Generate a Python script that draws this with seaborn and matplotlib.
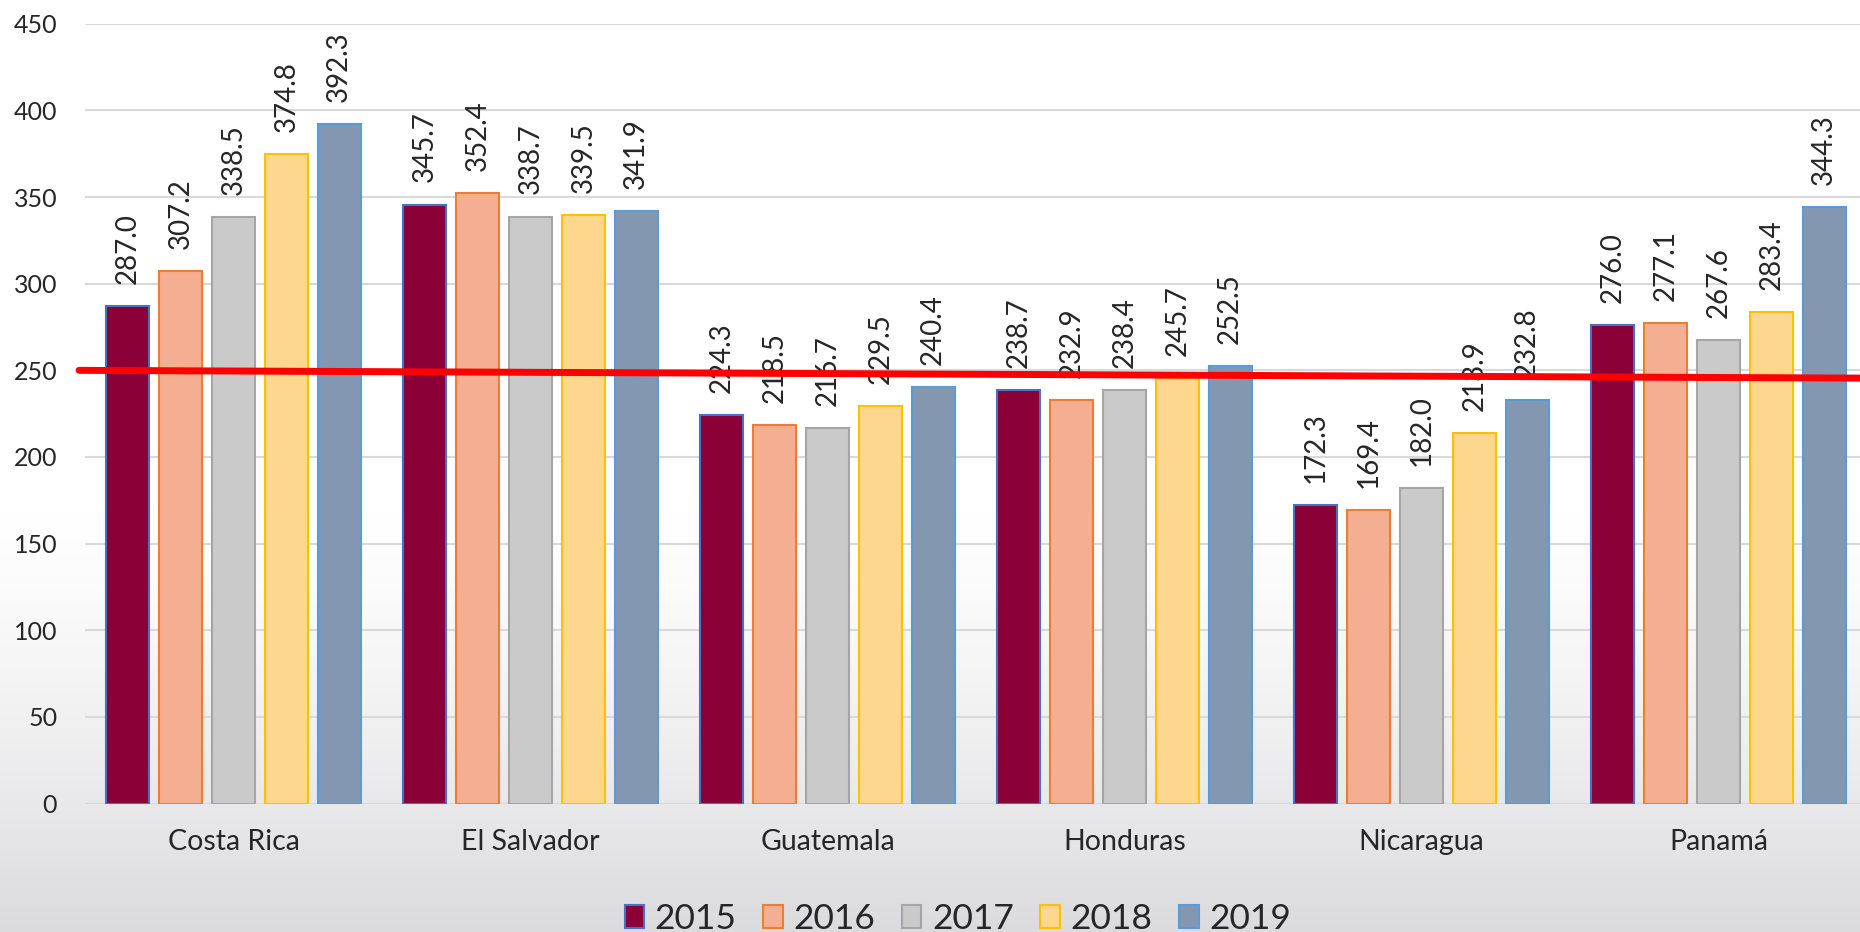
import numpy as np
import pandas as pd
import matplotlib
matplotlib.use("Agg")
import matplotlib.pyplot as plt
import seaborn as sns
from matplotlib.patches import Patch

countries = ["Costa Rica", "El Salvador", "Guatemala", "Honduras", "Nicaragua", "Panamá"]
years = ["2015", "2016", "2017", "2018", "2019"]
v2015 = [287.0, 345.7, 224.3, 238.7, 172.3, 276.0]
v2016 = [307.2, 352.4, 218.5, 232.9, 169.4, 277.1]
v2017 = [338.5, 338.7, 216.7, 238.4, 182.0, 267.6]
v2018 = [374.8, 339.5, 229.5, 245.7, 213.9, 283.4]
v2019 = [392.3, 341.9, 240.4, 252.5, 232.8, 344.3]
ref_line = [250.0, 245.5]  # red line, left end and right end

fills = ["#8B0037", "#F4AF92", "#CACACA", "#FDD78D", "#8497B0"]
edges = ["#4472C4", "#ED7D31", "#A5A5A5", "#FFC000", "#5B9BD5"]

df = pd.DataFrame({
    "country": countries * len(years),
    "year": np.repeat(years, len(countries)),
    "value": v2015 + v2016 + v2017 + v2018 + v2019,
})

sns.set_style("white")
plt.rcParams["font.family"] = ["Lato", "DejaVu Sans"]

fig = plt.figure(figsize=(18.6, 9.32), dpi=100)

# soft grey background fading in toward the bottom
bg = fig.add_axes([0, 0, 1, 1], zorder=0)
t = np.clip((np.linspace(0, 1, 400) - 0.55) / 0.45, 0, 1) ** 1.3
top = np.array([1.0, 1.0, 1.0])
bot = np.array([0.86, 0.86, 0.87])
grad = top[None, :] * (1 - t[:, None]) + bot[None, :] * t[:, None]
bg.imshow(grad[:, None, :], aspect="auto", extent=[0, 1, 0, 1], origin="upper")
bg.axis("off")

ax = fig.add_axes([85 / 1860, 0.1378, (1867 - 85) / 1860, 0.9745 - 0.1378], zorder=1)
ax.patch.set_alpha(0)

sns.barplot(data=df, x="country", y="value", hue="year", palette=fills,
            saturation=1, width=0.89, gap=0.18, legend=False, ax=ax)

for cont, ec in zip(ax.containers, edges):
    for p in cont:
        p.set_edgecolor(ec)
        p.set_linewidth(1.5)
    ax.bar_label(cont, fmt="%.1f", rotation=90, padding=16, fontsize=20)

ax.plot([-0.52, 5.5], ref_line, color="#FF0000", lw=5, clip_on=False, zorder=5)

ax.set_xlim(-0.5, 5.5)
ax.set_ylim(0, 450)
ax.set_yticks(range(0, 451, 50))
ax.yaxis.grid(True, color="#D9D9D9", lw=1.5)
ax.set_axisbelow(True)
sns.despine(ax=ax, left=True, bottom=True)
ax.tick_params(length=0)
ax.tick_params(axis="y", labelsize=18, pad=20)
ax.tick_params(axis="x", labelsize=20.5, pad=18)
ax.set_xlabel("")
ax.set_ylabel("")

handles = [Patch(facecolor=f, edgecolor=e, lw=1.5, label=y) for f, e, y in zip(fills, edges, years)]
fig.legend(handles=handles, loc="center", bbox_to_anchor=(0.515, 0.014), ncol=5,
           frameon=False, fontsize=25.5, handlelength=0.55, handleheight=0.65,
           handletextpad=0.3, columnspacing=0.75)

fig.savefig("out.png", dpi=100)
